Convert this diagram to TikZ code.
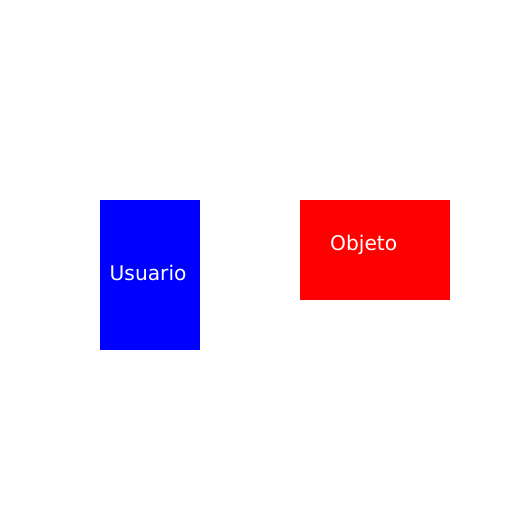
\documentclass[tikz,border=0pt]{standalone}
\usepackage{fontspec}
\setmainfont{DejaVu Sans}
\begin{document}
\begin{tikzpicture}[x=1pt,y=-1pt,
  box/.style={draw=none,inner sep=0pt,outer sep=0pt},
  lbl/.style={text=white,inner sep=0pt,anchor=base west,font=\fontsize{20.2}{24}\selectfont}]
\useasboundingbox[fill=white] (0,0) rectangle (512,512);
\fill[blue] (100,200) rectangle (200,350);
\node[box,minimum width=100pt,minimum height=150pt] (usuario) at (150,275) {};
\fill[red] (300,200) rectangle (450,300);
\node[box,minimum width=150pt,minimum height=100pt] (objeto) at (375,250) {};
\node[lbl] (tu) at (109.5,280.5) {Usuario};
\node[lbl] (to) at (330,250.5) {Objeto};
\end{tikzpicture}
\end{document}
